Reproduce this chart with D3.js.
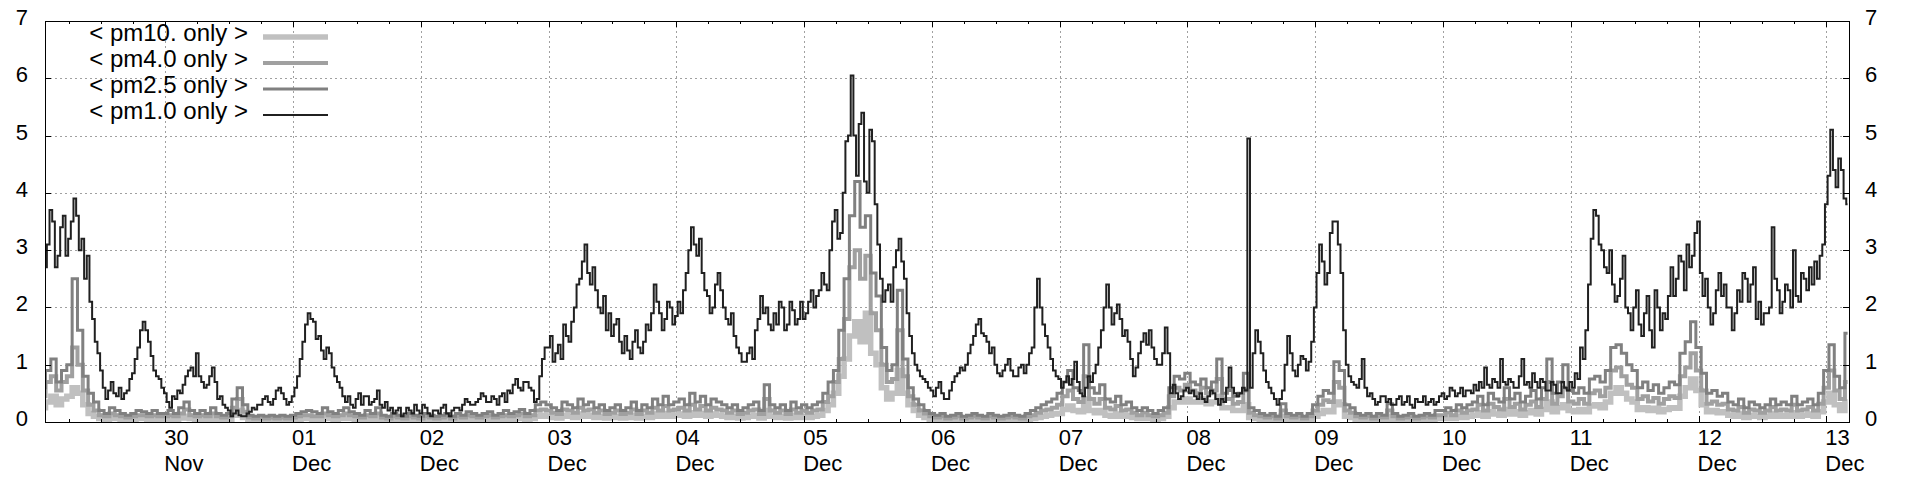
<!DOCTYPE html>
<html>
<head>
<meta charset="utf-8">
<script src="https://cdn.jsdelivr.net/npm/d3@7"></script>
<style>
  body { margin: 0; background: #fff; }
  svg { display: block; font-family: "Liberation Sans", Arial, sans-serif; }
</style>
</head>
<body>
<svg id="chart"></svg>
<script>
// Readings start at 29 Nov 01:00 (UTC). Gray series are hourly, pm1.0 every 30 min.
const startTime = Date.UTC(2023, 10, 29, 1);

const pm10 = [
  0.25, 0.35, 0.45, 0.3, 0.4, 0.45, 0.6, 0.5, 0.3, 0.15, 0.1, 0.06, 0.05, 0.07, 0.06, 0.05, 0.04, 0.05, 0.06, 0.06, 0.05, 0.06, 0.05,
  0.05, 0.06, 0.05, 0.07, 0.1, 0.06, 0.05, 0.06, 0.05, 0.07, 0.05, 0.04, 0.05, 0.12, 0.2, 0.08, 0.04, 0.03, 0.04, 0.03, 0.04, 0.03, 0.04, 0.03,
  0.04, 0.05, 0.06, 0.06, 0.05, 0.05, 0.07, 0.06, 0.05, 0.06, 0.07, 0.06, 0.05, 0.04, 0.06, 0.05, 0.07, 0.04, 0.03, 0.05, 0.04, 0.03, 0.05, 0.04,
  0.03, 0.05, 0.04, 0.03, 0.04, 0.05, 0.03, 0.05, 0.04, 0.06, 0.05, 0.04, 0.05, 0.06, 0.04, 0.05, 0.06, 0.05, 0.06, 0.07, 0.05, 0.06, 0.1, 0.12,
  0.1, 0.08, 0.07, 0.12, 0.1, 0.08, 0.14, 0.1, 0.12, 0.08, 0.1, 0.07, 0.08, 0.1, 0.07, 0.08, 0.12, 0.07, 0.1, 0.08, 0.14, 0.1, 0.15, 0.1,
  0.12, 0.14, 0.1, 0.16, 0.12, 0.15, 0.1, 0.14, 0.12, 0.1, 0.08, 0.1, 0.07, 0.08, 0.1, 0.12, 0.07, 0.2, 0.1, 0.08, 0.1, 0.07, 0.12, 0.08,
  0.1, 0.08, 0.1, 0.12, 0.2, 0.3, 0.5, 0.8, 1.1, 1.5, 1.75, 1.4, 1.9, 1.2, 1.0, 0.6, 0.4, 0.5, 0.9, 0.5, 0.3, 0.2, 0.12, 0.08,
  0.05, 0.04, 0.05, 0.03, 0.04, 0.05, 0.03, 0.04, 0.05, 0.04, 0.03, 0.05, 0.04, 0.03, 0.04, 0.05, 0.04, 0.03, 0.05, 0.06, 0.08, 0.1, 0.12, 0.14,
  0.15, 0.22, 0.28, 0.2, 0.18, 0.4, 0.2, 0.16, 0.2, 0.12, 0.1, 0.14, 0.1, 0.12, 0.08, 0.06, 0.08, 0.06, 0.05, 0.06, 0.1, 0.25, 0.35, 0.35,
  0.4, 0.35, 0.35, 0.4, 0.32, 0.35, 0.45, 0.25, 0.25, 0.2, 0.2, 0.3, 0.08, 0.06, 0.05, 0.04, 0.05, 0.03, 0.1, 0.05, 0.04, 0.05, 0.03, 0.05,
  0.1, 0.15, 0.2, 0.18, 0.35, 0.3, 0.1, 0.08, 0.05, 0.04, 0.05, 0.03, 0.05, 0.04, 0.1, 0.05, 0.03, 0.04, 0.05, 0.03, 0.04, 0.05, 0.04, 0.06,
  0.06, 0.08, 0.06, 0.1, 0.08, 0.1, 0.12, 0.16, 0.1, 0.18, 0.14, 0.12, 0.22, 0.14, 0.18, 0.12, 0.16, 0.2, 0.14, 0.22, 0.35, 0.18, 0.25, 0.3,
  0.2, 0.18, 0.22, 0.18, 0.28, 0.3, 0.25, 0.35, 0.5, 0.6, 0.5, 0.4, 0.35, 0.22, 0.25, 0.2, 0.24, 0.18, 0.22, 0.25, 0.24, 0.45, 0.6, 0.75,
  0.55, 0.3, 0.18, 0.2, 0.16, 0.18, 0.12, 0.1, 0.14, 0.08, 0.12, 0.1, 0.08, 0.1, 0.14, 0.1, 0.12, 0.1, 0.16, 0.1, 0.12, 0.14, 0.1, 0.18,
  0.35, 0.5, 0.3, 0.2, 0.35
];

const pm4 = [
  0.45, 0.7, 0.8, 0.55, 0.7, 0.8, 1.3, 1.0, 0.55, 0.3, 0.2, 0.12, 0.1, 0.15, 0.12, 0.1, 0.08, 0.1, 0.12, 0.12, 0.1, 0.12, 0.1,
  0.1, 0.12, 0.1, 0.15, 0.22, 0.12, 0.1, 0.12, 0.1, 0.15, 0.1, 0.08, 0.1, 0.25, 0.4, 0.18, 0.08, 0.06, 0.08, 0.06, 0.08, 0.06, 0.08, 0.06,
  0.08, 0.1, 0.12, 0.12, 0.1, 0.1, 0.15, 0.12, 0.1, 0.12, 0.15, 0.12, 0.1, 0.08, 0.12, 0.1, 0.15, 0.08, 0.06, 0.1, 0.08, 0.06, 0.1, 0.08,
  0.06, 0.1, 0.08, 0.06, 0.08, 0.1, 0.06, 0.1, 0.08, 0.12, 0.1, 0.08, 0.1, 0.12, 0.08, 0.1, 0.12, 0.1, 0.12, 0.15, 0.1, 0.12, 0.2, 0.22,
  0.2, 0.16, 0.14, 0.22, 0.2, 0.16, 0.25, 0.2, 0.22, 0.16, 0.2, 0.14, 0.16, 0.2, 0.14, 0.16, 0.22, 0.14, 0.2, 0.16, 0.25, 0.2, 0.28, 0.2,
  0.22, 0.25, 0.2, 0.3, 0.22, 0.28, 0.2, 0.25, 0.22, 0.2, 0.16, 0.2, 0.14, 0.16, 0.2, 0.22, 0.14, 0.4, 0.2, 0.16, 0.2, 0.14, 0.22, 0.16,
  0.2, 0.16, 0.2, 0.22, 0.35, 0.45, 0.7, 1.1, 1.8, 2.7, 3.0, 2.5, 2.9, 1.9, 1.6, 1.0, 0.7, 0.75, 1.6, 0.8, 0.45, 0.3, 0.2, 0.15,
  0.1, 0.08, 0.1, 0.06, 0.08, 0.1, 0.06, 0.08, 0.1, 0.08, 0.06, 0.1, 0.08, 0.06, 0.08, 0.1, 0.08, 0.06, 0.1, 0.12, 0.16, 0.2, 0.22, 0.25,
  0.3, 0.45, 0.55, 0.4, 0.35, 0.8, 0.4, 0.32, 0.4, 0.25, 0.22, 0.28, 0.2, 0.22, 0.16, 0.12, 0.16, 0.12, 0.1, 0.12, 0.16, 0.45, 0.6, 0.55,
  0.65, 0.55, 0.5, 0.6, 0.5, 0.55, 0.75, 0.4, 0.4, 0.32, 0.35, 0.55, 0.16, 0.12, 0.1, 0.08, 0.1, 0.06, 0.2, 0.1, 0.08, 0.1, 0.06, 0.1,
  0.2, 0.3, 0.38, 0.35, 0.7, 0.6, 0.2, 0.16, 0.1, 0.08, 0.1, 0.06, 0.1, 0.08, 0.2, 0.1, 0.06, 0.08, 0.1, 0.06, 0.08, 0.1, 0.08, 0.12,
  0.12, 0.16, 0.12, 0.2, 0.16, 0.2, 0.22, 0.3, 0.2, 0.32, 0.26, 0.22, 0.4, 0.26, 0.32, 0.22, 0.3, 0.36, 0.26, 0.4, 0.7, 0.32, 0.45, 0.6,
  0.36, 0.32, 0.4, 0.32, 0.5, 0.55, 0.45, 0.6, 0.9, 0.95, 0.8, 0.65, 0.6, 0.4, 0.45, 0.36, 0.42, 0.32, 0.4, 0.45, 0.42, 0.8, 0.95, 1.2,
  0.9, 0.55, 0.32, 0.36, 0.3, 0.32, 0.22, 0.2, 0.26, 0.16, 0.22, 0.2, 0.16, 0.2, 0.26, 0.2, 0.22, 0.2, 0.3, 0.2, 0.22, 0.26, 0.2, 0.32,
  0.6, 0.9, 0.55, 0.4, 0.7
];

const pm25 = [
  0.6, 0.9, 1.1, 0.7, 0.9, 1.0, 2.5, 1.6, 0.8, 0.5, 0.35, 0.2, 0.15, 0.25, 0.2, 0.15, 0.12, 0.15, 0.2, 0.18, 0.15, 0.2, 0.15,
  0.15, 0.2, 0.15, 0.25, 0.35, 0.2, 0.15, 0.2, 0.15, 0.25, 0.15, 0.12, 0.15, 0.4, 0.6, 0.3, 0.12, 0.1, 0.12, 0.1, 0.12, 0.1, 0.12, 0.1,
  0.12, 0.15, 0.18, 0.2, 0.18, 0.15, 0.25, 0.18, 0.15, 0.2, 0.25, 0.18, 0.15, 0.12, 0.2, 0.15, 0.25, 0.12, 0.1, 0.15, 0.12, 0.1, 0.15, 0.12,
  0.1, 0.15, 0.12, 0.1, 0.12, 0.15, 0.1, 0.15, 0.12, 0.18, 0.15, 0.12, 0.15, 0.18, 0.12, 0.15, 0.2, 0.15, 0.18, 0.22, 0.15, 0.2, 0.3, 0.35,
  0.3, 0.25, 0.2, 0.35, 0.3, 0.25, 0.4, 0.3, 0.35, 0.25, 0.3, 0.2, 0.25, 0.3, 0.2, 0.25, 0.35, 0.2, 0.3, 0.25, 0.4, 0.3, 0.45, 0.3,
  0.35, 0.4, 0.3, 0.5, 0.35, 0.45, 0.3, 0.4, 0.35, 0.3, 0.25, 0.3, 0.2, 0.25, 0.3, 0.35, 0.2, 0.65, 0.3, 0.25, 0.3, 0.2, 0.35, 0.25,
  0.3, 0.25, 0.3, 0.35, 0.5, 0.7, 0.9, 1.6, 2.5, 3.6, 4.2, 3.4, 3.6, 2.6, 2.2, 1.3, 0.9, 1.0, 2.3, 1.1, 0.6, 0.4, 0.3, 0.2,
  0.15, 0.12, 0.15, 0.1, 0.12, 0.15, 0.1, 0.12, 0.15, 0.12, 0.1, 0.15, 0.12, 0.1, 0.12, 0.15, 0.12, 0.1, 0.15, 0.2, 0.25, 0.3, 0.35, 0.4,
  0.5, 0.7, 0.9, 0.6, 0.55, 1.35, 0.6, 0.5, 0.65, 0.4, 0.35, 0.45, 0.3, 0.35, 0.25, 0.2, 0.25, 0.2, 0.15, 0.2, 0.25, 0.6, 0.8, 0.75,
  0.85, 0.7, 0.65, 0.75, 0.6, 0.7, 1.1, 0.5, 0.55, 0.45, 0.5, 0.85, 0.25, 0.2, 0.15, 0.12, 0.15, 0.1, 0.32, 0.15, 0.12, 0.15, 0.1, 0.15,
  0.3, 0.45, 0.55, 0.5, 1.05, 0.9, 0.3, 0.25, 0.15, 0.12, 0.15, 0.1, 0.15, 0.12, 0.32, 0.15, 0.1, 0.12, 0.15, 0.1, 0.12, 0.15, 0.12, 0.2,
  0.2, 0.25, 0.2, 0.3, 0.25, 0.3, 0.35, 0.45, 0.3, 0.5, 0.4, 0.35, 0.6, 0.4, 0.5, 0.35, 0.45, 0.55, 0.4, 0.6, 1.1, 0.5, 0.7, 1.0,
  0.55, 0.5, 0.6, 0.5, 0.75, 0.8, 0.7, 0.9, 1.3, 1.35, 1.2, 1.0, 0.9, 0.6, 0.7, 0.55, 0.65, 0.5, 0.6, 0.7, 0.65, 1.2, 1.4, 1.75,
  1.3, 0.85, 0.5, 0.55, 0.45, 0.5, 0.35, 0.3, 0.4, 0.25, 0.35, 0.3, 0.25, 0.3, 0.4, 0.3, 0.35, 0.3, 0.45, 0.3, 0.35, 0.4, 0.3, 0.5,
  0.9, 1.35, 0.8, 0.6, 1.55
];

// pm1.0, half-hourly
const pm1 = [
  2.4, 2.7, 3.1, 3.7, 3.5, 2.7, 2.9, 3.4, 3.6, 2.9, 3.2, 3.5, 3.9, 3.6, 3.0, 3.2, 2.5, 2.9, 2.1, 1.8, 1.4, 1.2, 0.9, 0.6,
  0.4, 0.55, 0.7, 0.5, 0.45, 0.6, 0.4, 0.5, 0.55, 0.75, 0.85, 1.1, 1.3, 1.6, 1.75, 1.6, 1.4, 1.15, 0.9, 0.8, 0.75, 0.6,
  0.5, 0.35, 0.25, 0.45, 0.4, 0.55, 0.5, 0.65, 0.8, 0.9, 0.95, 0.8, 1.2, 0.8, 0.7, 0.6, 0.65, 0.8, 0.95, 0.7, 0.4, 0.45, 0.3, 0.25,
  0.2, 0.1, 0.15, 0.2, 0.12, 0.1, 0.1, 0.15, 0.18, 0.25, 0.22, 0.3, 0.3, 0.4, 0.45, 0.35, 0.3, 0.4, 0.55, 0.6, 0.5, 0.4, 0.3, 0.35,
  0.45, 0.6, 0.8, 1.1, 1.4, 1.7, 1.9, 1.8, 1.75, 1.45, 1.5, 1.25, 1.1, 1.3, 1.2, 0.95, 0.8, 0.7, 0.6, 0.45, 0.35, 0.45, 0.3, 0.25,
  0.4, 0.5, 0.3, 0.45, 0.45, 0.3, 0.35, 0.4, 0.55, 0.3, 0.25, 0.35, 0.2, 0.25, 0.15, 0.2, 0.25, 0.1, 0.15, 0.25, 0.2, 0.15, 0.3, 0.2,
  0.15, 0.3, 0.25, 0.15, 0.1, 0.2, 0.2, 0.15, 0.25, 0.3, 0.15, 0.1, 0.2, 0.25, 0.25, 0.2, 0.3, 0.4, 0.35, 0.3, 0.3, 0.35, 0.4, 0.5,
  0.45, 0.35, 0.35, 0.45, 0.4, 0.3, 0.45, 0.5, 0.35, 0.55, 0.5, 0.65, 0.75, 0.6, 0.55, 0.7, 0.7, 0.6, 0.55, 0.35, 0.4, 0.8, 1.1, 1.3,
  1.3, 1.5, 1.05, 1.2, 1.35, 1.1, 1.7, 1.5, 1.4, 1.75, 2.0, 2.4, 2.5, 2.8, 3.1, 2.6, 2.4, 2.7, 2.3, 2.0, 1.9, 2.2, 1.6, 1.9,
  1.5, 1.7, 1.8, 1.4, 1.2, 1.5, 1.25, 1.1, 1.4, 1.6, 1.3, 1.2, 1.4, 1.7, 1.6, 1.9, 2.4, 2.1, 1.9, 1.6, 1.8, 2.1, 2.0, 1.7,
  1.85, 2.1, 1.9, 2.3, 2.6, 3.0, 3.4, 3.1, 2.9, 3.2, 2.6, 2.3, 2.2, 1.9, 2.0, 2.4, 2.6, 2.3, 2.0, 1.8, 1.7, 1.9, 1.5, 1.3,
  1.2, 1.05, 1.05, 1.2, 1.3, 1.1, 1.6, 1.8, 2.2, 1.9, 2.0, 1.7, 1.6, 1.9, 1.7, 2.1, 2.0, 1.6, 1.7, 2.1, 1.95, 1.7, 1.8, 2.1,
  1.8, 1.9, 2.1, 2.3, 2.0, 2.2, 2.3, 2.6, 2.4, 2.3, 3.0, 3.5, 3.7, 3.2, 3.3, 4.0, 4.9, 5.0, 6.05, 5.0, 4.3, 5.2, 5.4, 4.2,
  4.0, 5.1, 4.9, 3.8, 3.1, 2.5, 2.1, 2.3, 2.4, 2.1, 2.7, 3.0, 3.2, 2.8, 2.5, 1.9, 1.5, 1.2, 1.0, 0.9, 0.8, 0.75, 0.7, 0.6,
  0.55, 0.45, 0.6, 0.7, 0.5, 0.4, 0.4, 0.55, 0.7, 0.8, 0.85, 0.95, 0.9, 1.0, 1.2, 1.35, 1.5, 1.7, 1.8, 1.55, 1.5, 1.4, 1.2, 1.3,
  1.0, 0.85, 0.8, 0.9, 1.0, 1.1, 0.9, 0.8, 0.8, 0.95, 1.0, 0.85, 1.0, 1.2, 1.3, 2.0, 2.5, 2.0, 1.7, 1.5, 1.3, 1.1, 0.9, 0.8,
  0.75, 0.6, 0.7, 0.8, 0.65, 0.75, 1.05, 0.7, 0.5, 0.45, 0.6, 0.8, 0.7, 0.85, 1.0, 1.3, 1.6, 2.0, 2.4, 2.0, 1.7, 1.9, 2.05, 1.8,
  1.5, 1.6, 1.4, 1.1, 0.8, 0.95, 1.2, 1.4, 1.55, 1.35, 1.6, 1.3, 1.1, 1.0, 1.0, 1.2, 1.65, 1.2, 0.5, 0.65, 0.5, 0.4, 0.45, 0.55,
  0.6, 0.5, 0.55, 0.45, 0.4, 0.5, 0.4, 0.35, 0.45, 0.55, 0.5, 0.4, 0.3, 0.4, 0.35, 0.6, 0.95, 0.6, 0.5, 0.45, 0.5, 0.6, 0.55, 4.95,
  0.6, 1.2, 1.6, 1.4, 1.2, 0.9, 0.7, 0.6, 0.5, 0.4, 0.3, 0.4, 0.55, 1.0, 1.5, 1.2, 0.9, 0.8, 1.0, 1.15, 1.1, 0.9, 1.05, 1.4,
  2.0, 2.6, 3.1, 2.8, 2.4, 2.6, 3.3, 3.5, 3.5, 3.1, 2.6, 1.6, 1.0, 0.8, 0.7, 0.65, 0.6, 0.75, 1.1, 0.6, 0.45, 0.5, 0.4, 0.3,
  0.35, 0.45, 0.45, 0.35, 0.4, 0.3, 0.3, 0.4, 0.45, 0.3, 0.35, 0.45, 0.3, 0.25, 0.4, 0.35, 0.35, 0.45, 0.3, 0.35, 0.4, 0.3, 0.35, 0.45,
  0.5, 0.4, 0.45, 0.6, 0.55, 0.45, 0.5, 0.6, 0.45, 0.55, 0.55, 0.5, 0.65, 0.55, 0.7, 0.6, 0.95, 0.65, 0.6, 0.75, 0.7, 0.6, 1.1, 0.7,
  0.65, 0.75, 0.7, 0.6, 0.6, 0.8, 1.1, 0.65, 0.7, 0.6, 0.85, 0.7, 0.6, 0.75, 0.7, 0.55, 0.55, 0.7, 0.65, 0.5, 0.5, 0.7, 0.6, 0.55,
  0.7, 0.6, 0.85, 0.75, 1.3, 1.1, 1.6, 2.4, 3.2, 3.7, 3.6, 3.1, 3.0, 2.7, 2.6, 3.0, 2.4, 2.1, 2.2, 2.5, 2.9, 2.0, 1.9, 1.6,
  2.0, 2.3, 1.7, 1.5, 1.9, 2.2, 1.6, 1.3, 2.3, 2.0, 1.6, 1.9, 1.8, 2.2, 2.7, 2.2, 2.5, 2.9, 2.8, 2.3, 3.1, 2.7, 2.9, 3.3,
  3.5, 2.6, 2.2, 2.5, 2.0, 1.7, 1.9, 2.3, 2.6, 2.2, 2.4, 2.0, 2.0, 1.6, 1.9, 2.3, 2.1, 2.6, 2.5, 2.1, 2.4, 2.7, 1.8, 2.1,
  1.7, 1.9, 1.9, 2.0, 3.4, 2.5, 2.3, 1.9, 2.1, 2.4, 2.3, 2.0, 3.0, 2.2, 2.1, 2.6, 2.5, 2.3, 2.7, 2.4, 2.8, 2.5, 2.9, 3.1,
  3.8, 4.3, 5.1, 4.4, 4.1, 4.6, 4.4, 3.9, 3.8
];

// Tick labels (one per midnight from 30 Nov to 13 Dec)
const dayLabels = ["30", "01", "02", "03", "04", "05", "06", "07", "08", "09", "10", "11", "12", "13"];
const monthLabels = ["Nov", "Dec", "Dec", "Dec", "Dec", "Dec", "Dec", "Dec", "Dec", "Dec", "Dec", "Dec", "Dec", "Dec"];
const yTicks = [0, 1, 2, 3, 4, 5, 6, 7];
const legendLabels = ["< pm10. only >", "< pm4.0 only >", "< pm2.5 only >", "< pm1.0 only >"];

// Set up SVG dimensions and margins
var dims = {
  width: 1920,
  height: 480,
  margins: { top: 21, right: 71, bottom: 58, left: 45 }
};
var plotWidth = dims.width - dims.margins.left - dims.margins.right;
var plotHeight = dims.height - dims.margins.top - dims.margins.bottom;

const svg = d3.select("#chart")
  .attr("width", dims.width)
  .attr("height", dims.height);

const plot = svg.append("g")
  .attr("transform", `translate(${dims.margins.left},${dims.margins.top})`);

// Scales
const xScale = d3.scaleUtc()
  .domain([new Date(Date.UTC(2023, 10, 29, 1, 24)), new Date(Date.UTC(2023, 11, 13, 4, 16))])
  .range([0, plotWidth]);

const yScale = d3.scaleLinear()
  .domain([0, 7])
  .range([plotHeight, 0]);

const dayTicks = d3.utcDay.range(new Date(Date.UTC(2023, 10, 30)), new Date(Date.UTC(2023, 11, 13, 1)));
const minorTicks = d3.utcHour.every(6).range(xScale.domain()[0], xScale.domain()[1]);

// Dotted grid
const grid = plot.append("g")
  .attr("stroke", "#a0a0a0")
  .attr("stroke-width", 1)
  .attr("stroke-dasharray", "2,3");

grid.selectAll(".gx")
  .data(dayTicks)
  .enter()
  .append("line")
  .attr("x1", d => Math.round(xScale(d)) + 0.5)
  .attr("x2", d => Math.round(xScale(d)) + 0.5)
  .attr("y1", 0)
  .attr("y2", plotHeight);

grid.selectAll(".gy")
  .data(yTicks.slice(1, -1))
  .enter()
  .append("line")
  .attr("x1", 0)
  .attr("x2", plotWidth)
  .attr("y1", d => Math.round(yScale(d)) + 0.5)
  .attr("y2", d => Math.round(yScale(d)) + 0.5);

// Series, drawn light to dark like the legend order (step = sample spacing in ms)
const series = [
  { label: legendLabels[0], values: pm10, step: 3600e3, color: "#c0c0c0", width: 5.5 },
  { label: legendLabels[1], values: pm4, step: 3600e3, color: "#a0a0a0", width: 4 },
  { label: legendLabels[2], values: pm25, step: 3600e3, color: "#808080", width: 3 },
  { label: legendLabels[3], values: pm1, step: 1800e3, color: "#202020", width: 2 }
];

svg.append("defs").append("clipPath")
  .attr("id", "clip")
  .append("rect")
  .attr("x", 0)
  .attr("y", -10)
  .attr("width", plotWidth)
  .attr("height", plotHeight + 16);

plot.append("g")
  .attr("clip-path", "url(#clip)")
  .selectAll("path")
  .data(series)
  .enter()
  .append("path")
  .attr("d", s => d3.line()
    .x((d, i) => xScale(new Date(startTime + i * s.step)))
    .y(d => yScale(d))
    .curve(d3.curveStep)(s.values))
  .attr("fill", "none")
  .attr("stroke", d => d.color)
  .attr("stroke-width", d => d.width);

// Border
plot.append("rect")
  .attr("x", 0.5)
  .attr("y", 0.5)
  .attr("width", plotWidth)
  .attr("height", plotHeight)
  .attr("fill", "none")
  .attr("stroke", "#000")
  .attr("stroke-width", 1);

// Tick marks (inward, mirrored on all sides)
const ticks = plot.append("g").attr("stroke", "#000").attr("stroke-width", 1);

ticks.selectAll(".mb")
  .data(minorTicks)
  .enter()
  .append("path")
  .attr("d", d => {
    const x = Math.round(xScale(d)) + 0.5;
    const len = d.getUTCHours() === 0 ? 6 : 3;
    return `M${x},${plotHeight}v${-len}M${x},0v${len}`;
  });

ticks.selectAll(".my")
  .data(yTicks)
  .enter()
  .append("path")
  .attr("d", d => {
    const y = Math.round(yScale(d)) + 0.5;
    return `M0,${y}h6M${plotWidth},${y}h-6`;
  });

// Y labels on both sides
const yLabels = svg.append("g")
  .attr("font-size", 22)
  .attr("fill", "#000");

yLabels.selectAll(".yl")
  .data(yTicks)
  .enter()
  .append("text")
  .attr("x", 28)
  .attr("y", d => dims.margins.top + yScale(d) + 4)
  .attr("text-anchor", "end")
  .text(d => d);

yLabels.selectAll(".yr")
  .data(yTicks)
  .enter()
  .append("text")
  .attr("x", 1865)
  .attr("y", d => dims.margins.top + yScale(d) + 4)
  .attr("text-anchor", "start")
  .text(d => d);

// X labels: day on the first line, month on the second
const xLabels = svg.append("g")
  .attr("font-size", 22)
  .attr("fill", "#000");

xLabels.selectAll(".xd")
  .data(dayTicks)
  .enter()
  .append("text")
  .attr("x", d => dims.margins.left + xScale(d) - 1)
  .attr("y", 445)
  .text((d, i) => dayLabels[i]);

xLabels.selectAll(".xm")
  .data(dayTicks)
  .enter()
  .append("text")
  .attr("x", d => dims.margins.left + xScale(d) - 1)
  .attr("y", 471)
  .text((d, i) => monthLabels[i]);

// Legend, top left inside the plot
const legend = svg.append("g")
  .attr("font-size", 24);

const rows = legend.selectAll(".row")
  .data(series)
  .enter()
  .append("g")
  .attr("transform", (d, i) => `translate(0,${37 + i * 26})`);

rows.append("text")
  .attr("x", 248)
  .attr("y", 4)
  .attr("text-anchor", "end")
  .text(d => d.label);

rows.append("line")
  .attr("x1", 263)
  .attr("x2", 328)
  .attr("y1", 0)
  .attr("y2", 0)
  .attr("stroke", d => d.color)
  .attr("stroke-width", d => d.width);
</script>
</body>
</html>
